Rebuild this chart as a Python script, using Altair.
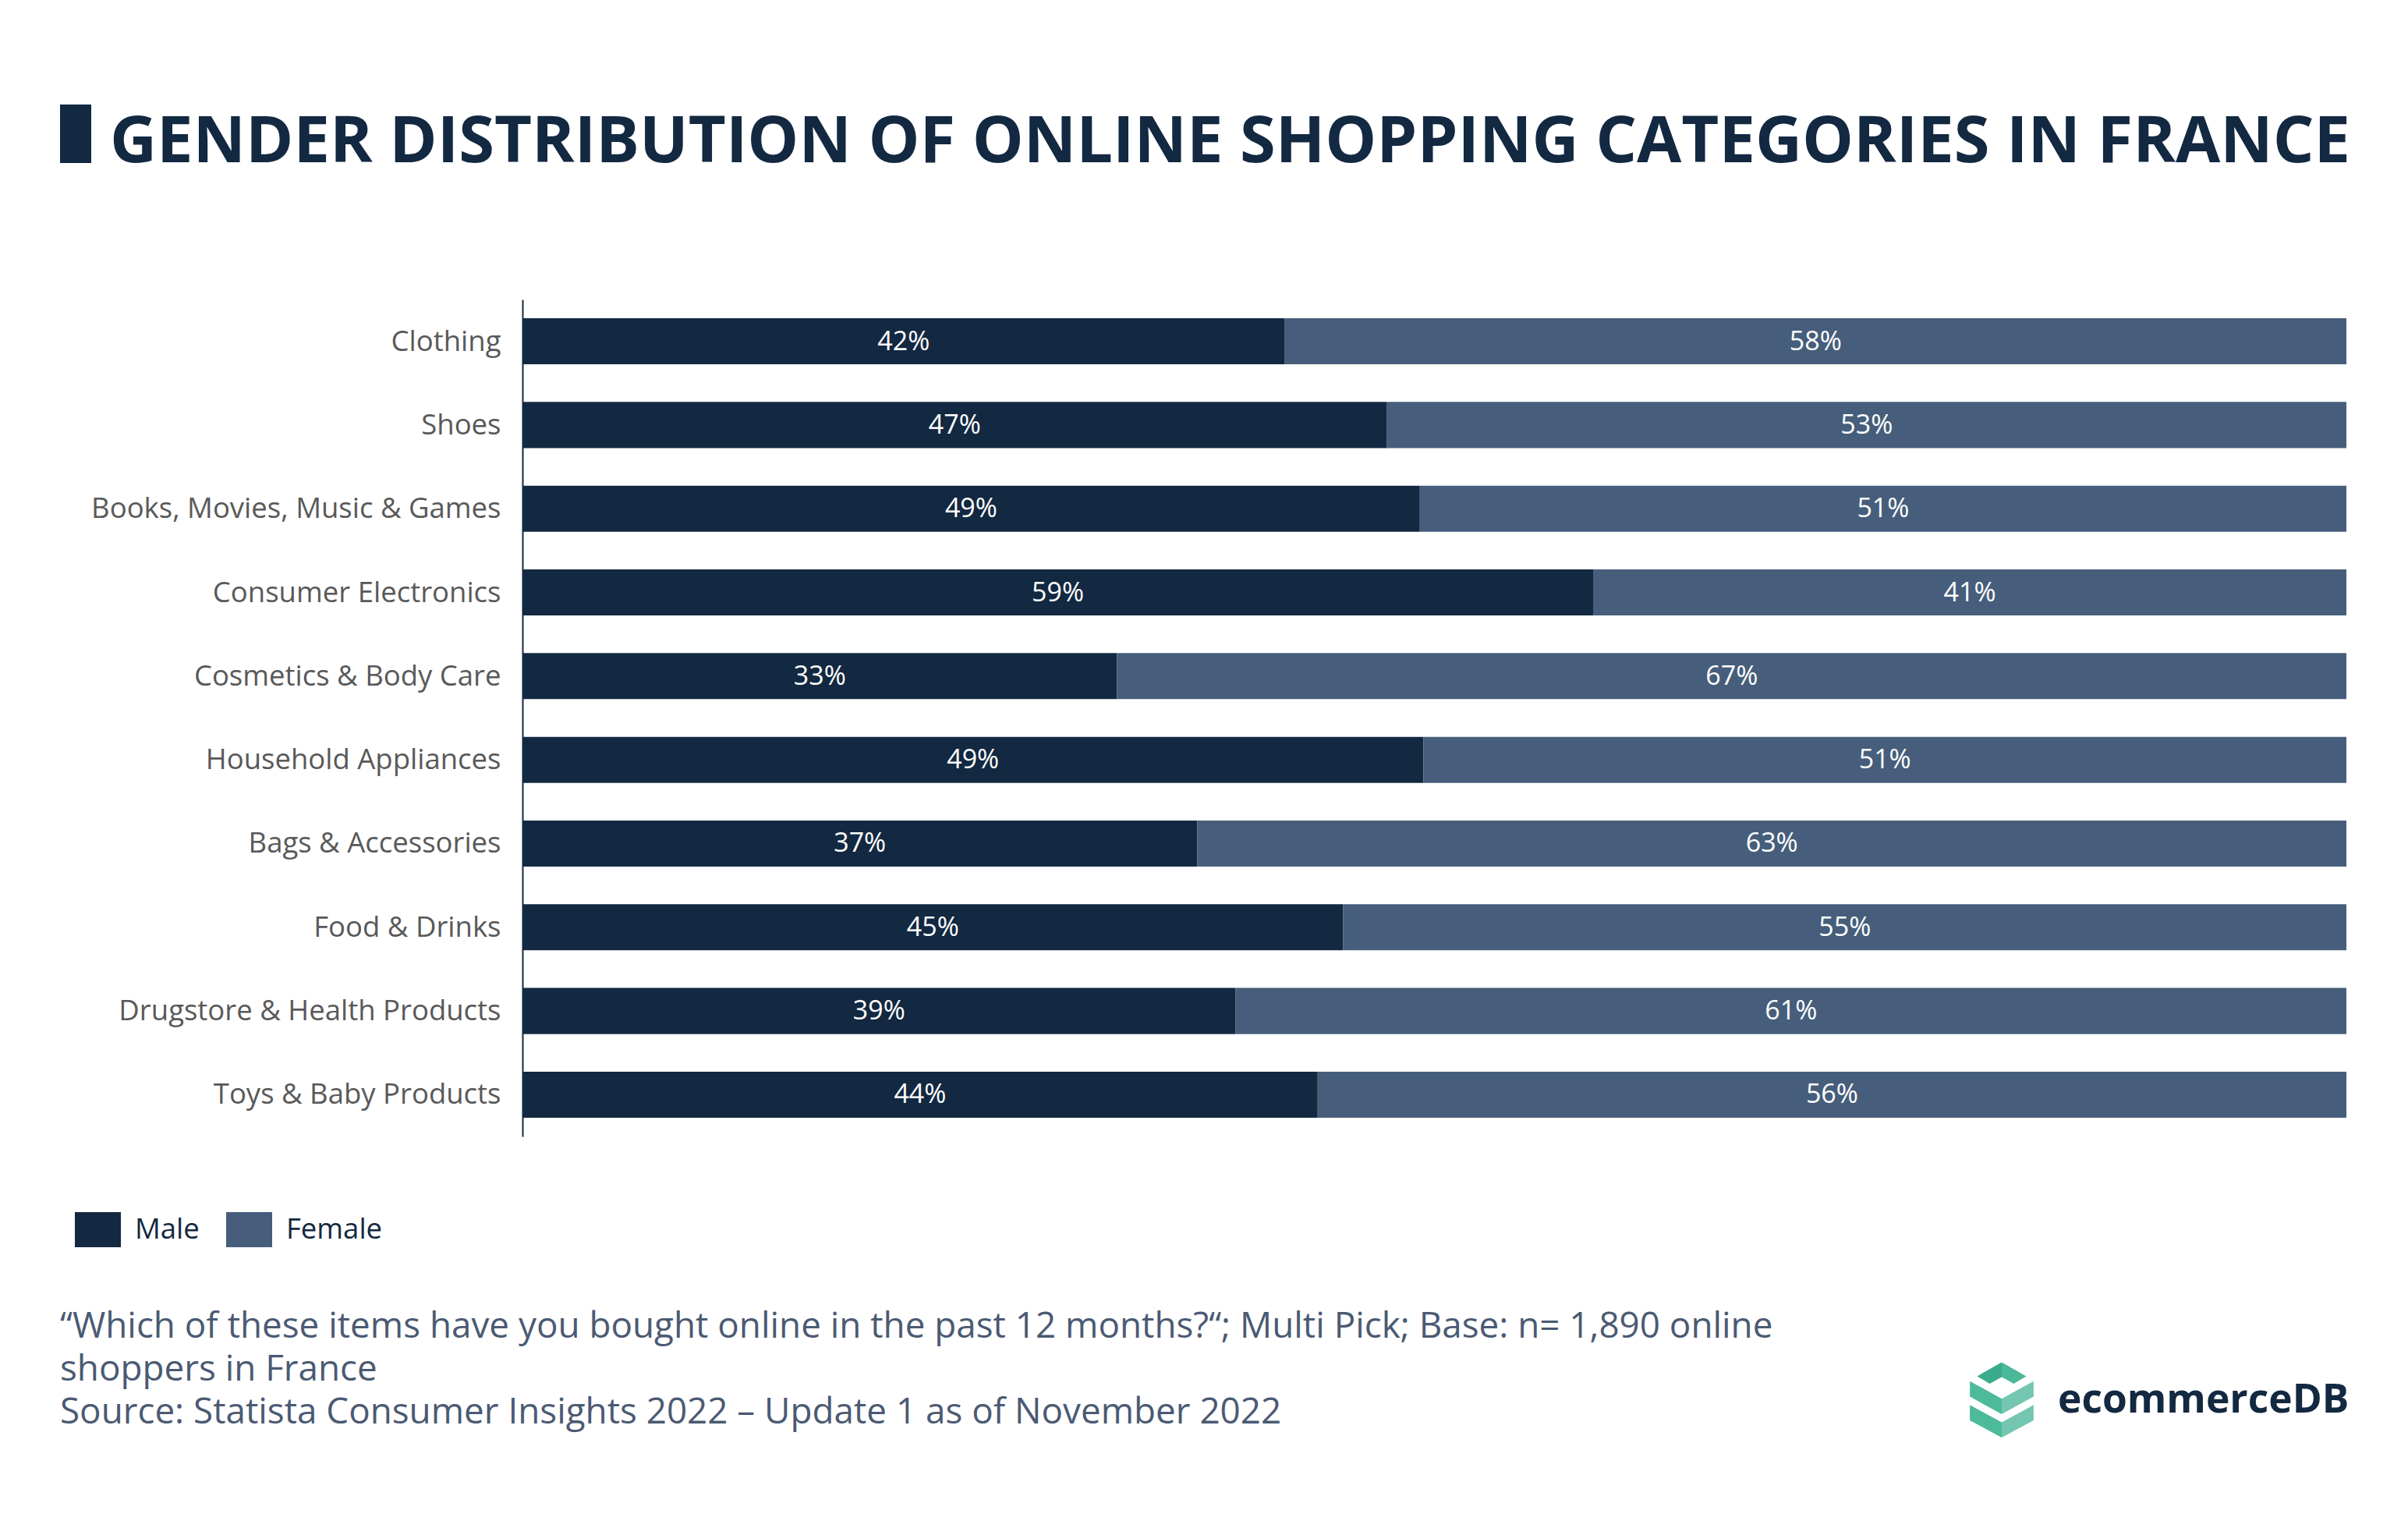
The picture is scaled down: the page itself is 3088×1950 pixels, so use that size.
import altair as alt
import pandas as pd

categories = [
    "Clothing", "Shoes", "Books, Movies, Music & Games", "Consumer Electronics",
    "Cosmetics & Body Care", "Household Appliances", "Bags & Accessories",
    "Food & Drinks", "Drugstore & Health Products", "Toys & Baby Products",
]
male = [41.8, 47.4, 49.2, 58.7, 32.6, 49.4, 37.0, 45.0, 39.1, 43.6]
female = [58.2, 52.6, 50.8, 41.3, 67.4, 50.6, 63.0, 55.0, 60.9, 56.4]
genders = ["Male", "Female"]
colors = ["#132841", "#465e7b"]

TITLE = "GENDER DISTRIBUTION OF ONLINE SHOPPING CATEGORIES IN FRANCE"
FOOTER = ("\u201cWhich of these items have you bought online in the past 12 months?\u201c; Multi Pick; Base: n= 1,890 online\n"
          "shoppers in France\n"
          "Source: Statista Consumer Insights 2022 \u2013 Update 1 as of November 2022")
BRAND = "ecommerceDB"

NAVY = "#132841"
FONT = "Open Sans"

rows = []
for c, m, f in zip(categories, male, female):
    rows.append({"category": c, "gender": "Male", "start": 0, "end": m,
                 "mid": m / 2, "label": f"{round(m)}%"})
    rows.append({"category": c, "gender": "Female", "start": m, "end": m + f,
                 "mid": m + f / 2, "label": f"{round(f)}%"})
df = pd.DataFrame(rows)

xscale = alt.Scale(domain=[0, 100], nice=False, zero=True)
yscale = alt.Scale(domain=categories, paddingInner=0.45, paddingOuter=0.224)

base = alt.Chart(df)

bars = base.mark_bar().encode(
    x=alt.X("start:Q", scale=xscale, axis=None),
    x2="end:Q",
    y=alt.Y("category:N", scale=yscale, sort=categories,
            axis=alt.Axis(title=None, ticks=False, grid=False, domainColor=NAVY,
                          domainWidth=2, labelFontSize=36.5, labelColor="#595959",
                          labelFont=FONT, labelPadding=28, labelLimit=800,
                          labelOffset=1)),
    color=alt.Color("gender:N", scale=alt.Scale(domain=genders, range=colors),
                    legend=alt.Legend(orient="none", legendX=-574, legendY=1163,
                                      direction="horizontal", title=None,
                                      symbolType="M -1 -0.76 H 1 V 0.76 H -1 Z",
                                      symbolSize=3481, symbolStrokeWidth=0,
                                      symbolOpacity=1,
                                      labelFontSize=36.5, labelColor=NAVY, labelFont=FONT,
                                      labelOffset=18, columnPadding=34, padding=0)),
)

labels = base.mark_text(color="white", fontSize=34, font=FONT, baseline="middle", dy=1).encode(
    x=alt.X("mid:Q", scale=xscale),
    y=alt.Y("category:N", scale=yscale, sort=categories),
    text="label:N",
)

title_bar = alt.Chart(pd.DataFrame({"a": [0]})).mark_rect(color=NAVY).encode(
    x=alt.value(-593), x2=alt.value(-553), y=alt.value(-250), y2=alt.value(-175)
)
title = alt.Chart(pd.DataFrame({"t": [TITLE]})).mark_text(
    font=FONT, fontSize=83, fontWeight="bold", color=NAVY, align="left", baseline="alphabetic"
).encode(text="t:N", x=alt.value(-529), y=alt.value(-176))

footer = alt.Chart(pd.DataFrame({"t": [FOOTER]})).mark_text(
    font=FONT, fontSize=45.8, color="#4b5a73", align="left", baseline="alphabetic",
    lineBreak="\n", lineHeight=55
).encode(text="t:N", x=alt.value(-593), y=alt.value(1331))

brand = alt.Chart(pd.DataFrame({"t": [BRAND]})).mark_text(
    font=FONT, fontSize=51.5, fontWeight="bold", color=NAVY, align="left", baseline="alphabetic"
).encode(text="t:N", x=alt.value(1969), y=alt.value(1427))

one = pd.DataFrame({"a": [0]})
logo_paths = [
    ("M -0.656 -0.638 L -0.03 -0.995 L 0 -1 L 0 -0.616 L -0.322 -0.435 Z", "#3aab8d"),
    ("M 0 -1 L 0.03 -0.995 L 0.656 -0.638 L 0.322 -0.435 L 0 -0.616 Z", "#4cb89a"),
    ("M -0.851 -0.507 L 0 -0.036 L 0 0.377 L -0.851 -0.094 Z M -0.851 0.13 L 0 0.594 L 0 1 L -0.851 0.543 Z", "#4cba9b"),
    ("M 0.851 -0.507 L 0 -0.036 L 0 0.377 L 0.851 -0.094 Z M 0.851 0.13 L 0 0.594 L 0 1 L 0.851 0.543 Z", "#74c6b0"),
]
logo_layers = [
    alt.Chart(one).mark_point(shape=p, filled=True, opacity=1, strokeWidth=0, size=9216).encode(
        x=alt.value(1897), y=alt.value(1411), color=alt.value(c)
    )
    for p, c in logo_paths
]

chart = alt.layer(bars, labels, title_bar, title, footer, brand, *logo_layers).properties(
    width=2339, height=1073,
    autosize=alt.AutoSizeParams(type="none"),
    padding={"left": 662, "top": 376, "right": 71, "bottom": 480},
).configure_view(strokeWidth=0)

chart.save("out.html", embed_options={"renderer": "svg", "actions": False})
